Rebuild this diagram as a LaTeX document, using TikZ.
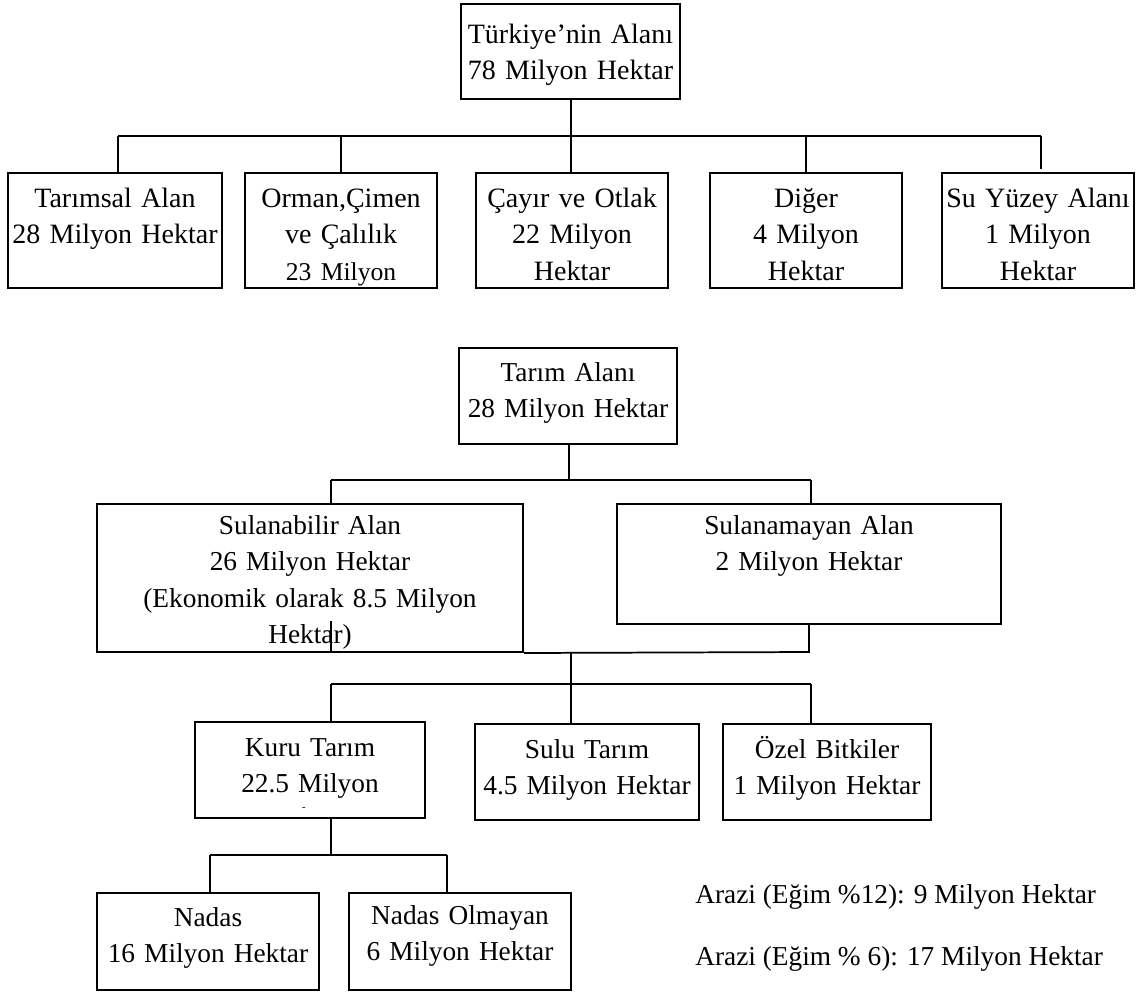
\documentclass[tikz,border=0pt]{standalone}
\usepackage{fontspec}
\setmainfont{Liberation Serif}
\begin{document}
\begin{tikzpicture}[x=0.75pt,y=-0.75pt,
  box/.style={draw=black, line width=1.5pt, inner sep=0pt},
  conn/.style={draw=black, line width=1.3pt},
  bus/.style={draw=black, line width=1.8pt},
  txt/.style={anchor=base, inner sep=0pt, text width=330pt, align=center, font=\fontsize{21}{27.4}\selectfont},
  txtb/.style={txt, font=\fontsize{20.5}{27.4}\selectfont},
  note/.style={anchor=base west, inner sep=0pt, font=\fontsize{20.5}{27.4}\selectfont}]
\newcommand\mybox[5]{\node[box, minimum width={(#4-#2)*0.75pt}, minimum height={(#5-#3)*0.75pt}] (#1) at ({(#2+#4)/2},{(#3+#5)/2}) {};}
\useasboundingbox (0,0) rectangle (1137,996);
% ---------- section 1 ----------
\mybox{T0}{461}{4}{680}{99}
\node[txt] (T0t) at (570.5,43) {Türkiye’nin Alanı\\78 Milyon Hektar};
\mybox{A1}{8}{173}{222}{288}
\mybox{A2}{245}{173}{437}{288}
\mybox{A3}{476}{173}{668}{288}
\mybox{A4}{710}{173}{902}{288}
\mybox{A5}{942}{173}{1134}{288}
\node[txt] (A1t) at (115,207) {Tarımsal Alan\\28 Milyon Hektar};
\node[txt] (A2t) at (341,207) {Orman,Çimen\\ve Çalılık\\{\fontsize{19.2}{27.4}\selectfont 23 Milyon}};
\node[txt] (A3t) at (572,207) {Çayır ve Otlak\\22 Milyon\\Hektar};
\node[txt] (A4t) at (806,207) {Diğer\\4 Milyon\\Hektar};
\node[txt] (A5t) at (1038,207) {Su Yüzey Alanı\\1 Milyon\\Hektar};
\coordinate (b1L) at (118,136);
\coordinate (b1R) at (1041,136);
\coordinate (b1M) at (571,136);
\draw[bus] (b1L) -- (b1R);
\draw[conn] (T0.south -| b1M) -- (b1M |- A3.north);
\draw[conn] (b1L) -- (b1L |- A1.north);
\draw[conn] (A2.north |- b1L) -- (A2.north);
\draw[conn] (A4.north |- b1L) -- (A4.north);
\draw[conn] (b1R) -- ([yshift=2.5pt]b1R |- A5.north);
% ---------- section 2 ----------
\mybox{T1}{459}{348}{677}{444}
\node[txtb] (T1t) at (568,381) {Tarım Alanı\\28 Milyon Hektar};
\coordinate (b2L) at (331,480);
\coordinate (b2R) at (811,480);
\coordinate (b2M) at (569,480);
\draw[conn] (T1.south -| b2M) -- (b2M);
\draw[bus] (b2L) -- (b2R);
\mybox{S1}{97}{504}{523}{652}
\mybox{S2}{617}{504}{1001}{624}
\node[txtb] (S1t) at (310,534) {Sulanabilir Alan\\26 Milyon Hektar\\(Ekonomik olarak 8.5 Milyon\\Hektar)};
\node[txtb] (S2t) at (809,534) {Sulanamayan Alan\\2 Milyon Hektar};
\draw[conn] (b2L) -- (b2L |- S1.north);
\draw[conn] (b2R) -- (b2R |- S2.north);
\coordinate (j1) at (809,652);
\coordinate (m1) at (331,621);
\draw[conn] (S2.south -| j1) -- (j1) -- (S1.south east);
\draw[conn] (m1) -- (m1 |- S1.south);
\coordinate (j2) at (571,652);
\coordinate (b3L) at (331,684);
\coordinate (b3R) at (811,684);
\draw[conn] (j2) -- (j2 |- b3L);
\draw[bus] (b3L) -- (b3R);
\mybox{K}{195}{722}{425}{818}
\mybox{U}{475}{724}{699}{820}
\mybox{O}{723}{724}{931}{820}
\node[txtb] (Kt) at (310,756) {Kuru Tarım\\22.5 Milyon};
\node[inner sep=0pt, font=\fontsize{8}{8}\selectfont] (Kd) at (304,809) {-};
\node[txtb] (Ut) at (587,758) {Sulu Tarım\\4.5 Milyon Hektar};
\node[txtb] (Ot) at (827,758) {Özel Bitkiler\\1 Milyon Hektar};
\draw[conn] (b3L) -- (b3L |- K.north);
\draw[conn] (j2 |- b3L) -- (j2 |- U.north);
\draw[conn] (b3R) -- (b3R |- O.north);
% ---------- section 3 ----------
\coordinate (b4M) at (331,855);
\coordinate (b4L) at (210,855);
\coordinate (b4R) at (447,855);
\draw[conn] (K.south -| b4M) -- (b4M);
\draw[bus] (b4L) -- (b4R);
\mybox{N1}{97}{893}{319}{990}
\mybox{N2}{349}{893}{571}{990}
\node[txtb] (N1t) at (208,926) {Nadas\\16 Milyon Hektar};
\node[txtb] (N2t) at (460,924) {Nadas Olmayan\\6 Milyon Hektar};
\draw[conn] (b4L) -- (b4L |- N1.north);
\draw[conn] (b4R) -- (b4R |- N2.north);
\node[note] (R1) at (695,903) {Arazi (Eğim \%12): 9 Milyon Hektar};
\node[note] (R2) at (695,965) {Arazi (Eğim \% 6): 17 Milyon Hektar};
\end{tikzpicture}
\end{document}
